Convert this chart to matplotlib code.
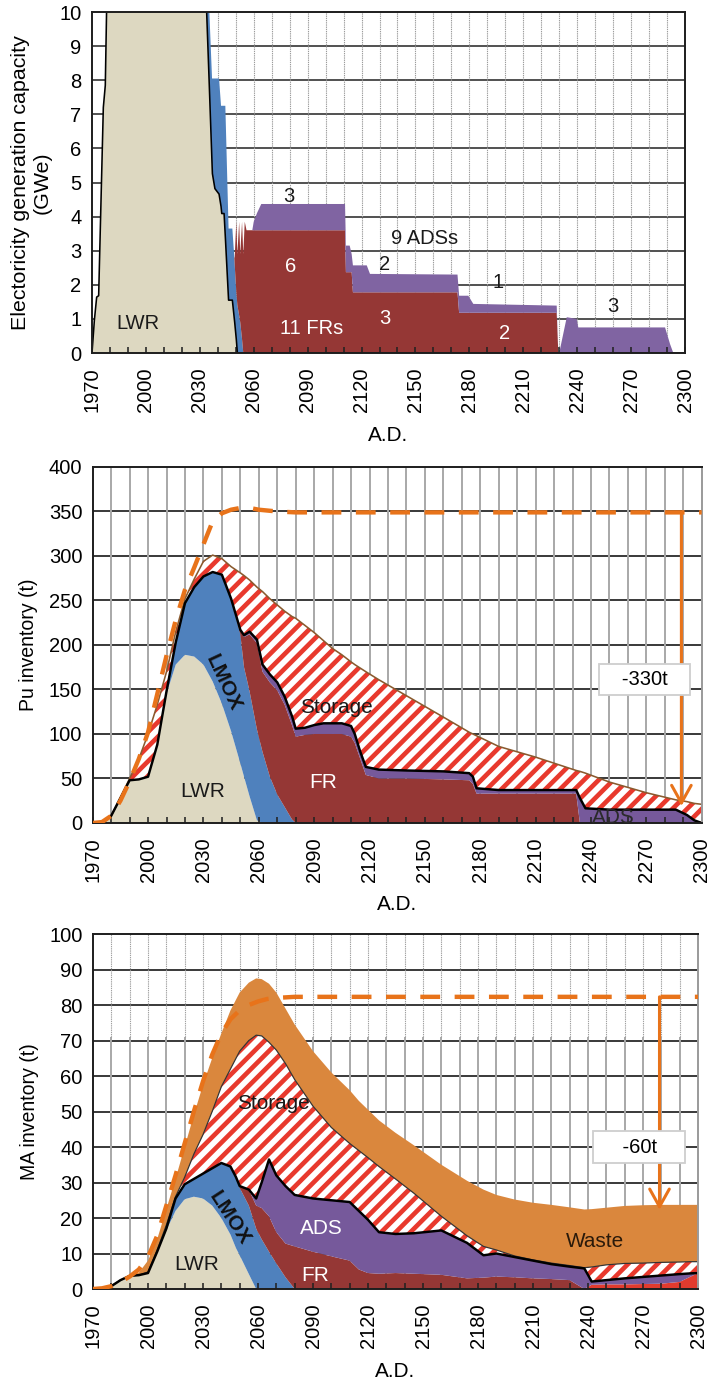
import numpy as np
import matplotlib
matplotlib.use('Agg')
import matplotlib.pyplot as plt

DPI = 88
plt.rcParams['font.family'] = ['Liberation Sans', 'DejaVu Sans']
plt.rcParams['hatch.color'] = '#e8392d'
plt.rcParams['hatch.linewidth'] = 3.8

LWR_C = '#ddd8c1'
LMOX_C = '#4f81bd'
FR_C = '#953735'
ADS_C = '#8064a2'
ADS_DARK = '#76599b'
NEW_C = '#e23b2e'
WASTE_C = '#da873d'
DASH_C = '#e8731a'

# ---- electricity generation capacity (GWe), layer thickness per reactor type
cap_years = [1970, 1971.3, 1972.6, 1973.7, 1976.3, 1977.4, 1978.2, 1980, 2032, 2033.8,
             2035.3, 2036.8, 2037, 2038.4, 2040.7, 2041.8, 2042.2, 2043.5, 2044.2, 2046,
             2048.1, 2049.2, 2049.4, 2050.3, 2050.9, 2051.9, 2052.5, 2053.5, 2054.2, 2055,
             2056, 2059.2, 2060, 2061.8, 2064.2, 2110.8, 2111.3, 2113.4, 2114.5, 2115.2,
             2122.9, 2124.7, 2173.4, 2174.3, 2179.4, 2182.2, 2228.6, 2229.5, 2230.4, 2234.2,
             2239.7, 2240.6, 2288.9, 2291.7, 2293.5, 2300]
cap_lwr = [0, 0.95, 1.64, 1.68, 7.2, 7.85, 10.3, 12, 12, 10,
           7.8, 5.55, 5.26, 4.82, 4.66, 4.3, 4.09, 4.09, 3.4, 1.55,
           1.55, 1.0, 0.9, 0.4, 0] + [0] * 31
cap_lmox = [0] * 9 + [1.3, 2.2, 2.5, 2.79, 3.23, 3.39, 2.95, 3.16, 3.16, 3.85,
                      2.1, 2.1, 1.8, 1.7, 1.4, 1.4, 1.1, 0.9, 0.4, 0] + [0] * 27
cap_fr = [0] * 22 + [0.2, 2.05, 1.5, 2.75, 2.0, 3.45, 2.9, 3.85, 3.6, 3.6,
                     3.6, 3.6, 3.6, 3.6, 2.37, 2.37, 2.37, 1.78, 1.78, 1.78,
                     1.78, 1.18, 1.18, 1.18, 1.18, 0] + [0] * 8
cap_ads = [0] * 32 + [0.25, 0.5, 0.77, 0.77, 0.78, 0.78, 0.53, 0.79, 0.79, 0.54,
                      0.52, 0.5, 0.5, 0.26, 0.21, 0, 0.1, 1.05, 1.0, 0.75,
                      0.75, 0.26, 0, 0]

# ---- Pu inventory (t)
pu_years = [1970, 1975, 1980, 1985, 1990, 1995, 2000, 2005, 2010, 2015,
            2020, 2025, 2030, 2035, 2040, 2045, 2050, 2052, 2055, 2059,
            2062, 2066, 2070, 2074, 2078, 2080, 2085, 2090, 2095, 2100,
            2105, 2110, 2112, 2115, 2118, 2125, 2140, 2160, 2174, 2176,
            2178, 2190, 2210, 2232, 2234, 2237, 2250, 2270, 2286, 2292,
            2296, 2300]
pu_lwr = [0, 0, 8, 28, 48, 49, 52, 88, 145, 178, 189, 187, 178, 159, 134, 103,
          67, 52, 30, 3] + [0] * 32
pu_lmox = [0] * 8 + [3, 25, 58, 78, 99, 123, 145, 149, 145, 123, 118, 102, 80,
                     52, 32, 18, 4] + [0] * 27
pu_fr = [0] * 16 + [5, 34, 64, 97, 90, 106, 117, 115, 106, 97, 99, 100, 100, 100,
                    100, 97, 90, 72, 54, 50, 50, 49, 48, 44, 33, 33, 33, 33] + [0] * 8
pu_ads = [0] * 16 + [0, 2, 3, 4, 8, 9, 9, 9, 10, 9, 8, 10, 12, 12, 12, 12, 10, 8,
                     9, 10, 9, 9, 8, 8, 6, 4, 4, 4, 28, 16.5, 15, 15, 15, 9, 3, 0]
pu_storage = [0, 0, 0, 0, 2, 23, 48, 45, 22, 12, 5, 9, 17, 19, 18, 36, 64, 67, 58, 59,
              82, 85, 87, 96, 112, 124, 115, 104, 93, 84, 77, 72, 78, 94, 107, 101,
              84, 61, 46, 48, 59, 49, 37, 22, 30, 39.5, 31, 19, 11, 15, 19, 21]
pu_dash_years = [1970, 1975, 1980, 1985, 1990, 1995, 2000, 2005, 2010, 2015, 2020,
                 2025, 2030, 2035, 2040, 2045, 2050, 2055, 2060, 2070, 2080, 2300]
pu_dash = [0, 1, 8, 25, 47, 72, 102, 145, 188, 228, 262, 287, 313, 339, 348, 352,
           354, 354, 352, 350, 349, 349]
pu_drop = 330
pu_arrow_year = 2289

# ---- MA inventory (t)
ma_years = [1970, 1975, 1980, 1985, 1990, 1995, 2000, 2005, 2010, 2015,
            2020, 2025, 2030, 2035, 2040, 2045, 2048, 2050, 2055, 2059,
            2062, 2066, 2070, 2075, 2080, 2090, 2100, 2110, 2115, 2120,
            2126, 2135, 2145, 2160, 2174, 2183, 2190, 2200, 2210, 2220,
            2230, 2238, 2242, 2250, 2260, 2270, 2280, 2290, 2296, 2300]
ma_lwr = [0, 0, 0.8, 2.5, 3.7, 3.9, 4.5, 10.5, 16.5, 22, 25.3, 26, 25.5, 23.5, 20,
          15.3, 11.5, 9.5, 4.2] + [0] * 31
ma_lmox = [0] * 8 + [0.5, 3.5, 4.2, 5, 7, 10.5, 15.5, 19.2, 20, 19, 19.3, 17, 14,
                     10.5, 7.2, 3.3] + [0] * 26
ma_fr = [0] * 16 + [0, 0.5, 4.5, 6.5, 8.8, 10, 8.8, 9.5, 12, 10.5, 9.2, 8, 5.5, 4.5,
                    4.3, 4.5, 4.3, 4, 3, 3.2, 3.5, 3.3, 3, 2.8, 2.5, 0] + [0] * 8
ma_new = [0] * 42 + [1.2, 1.3, 1.3, 1.4, 1.5, 2, 3.5, 4.5]
ma_ads = [0] * 19 + [2, 7.2, 16, 16, 16.2, 14.5, 15, 15.8, 16.5, 16.5, 15, 11.7, 11,
                     11.4, 12.5, 10, 6.3, 6.5, 5.7, 5, 4.2, 3.8, 5.8, 0.9, 1.2, 1.7,
                     2, 2.3, 2.2, 0.9, 0]
ma_storage = [0, 0, 0, 0, 0, 0, 0.3, 0.5, 1, 0.5, 2, 7, 11, 16, 21.5, 27.5, 33.5, 38,
              42, 46, 41.3, 33, 35.3, 34.5, 32.5, 26, 20.5, 16.5, 17, 17.5, 18.5, 15.5,
              11.3, 4, 2, 2.5, 1, 0.3, 0.2, 0.3, 0.3, 0.2, 4.1, 4.3, 4.2, 3.9, 3.7,
              3.4, 3.3, 3.2]
ma_waste = [0, 0.1, 0.4, 0.2, 0.2, 0.7, 3.2, 3, 4.5, 5, 8.5, 11, 14, 15, 15, 16.5,
            16.5, 16.5, 16.3, 16, 16, 16.5, 16.2, 15.5, 15.5, 15.5, 15.5, 15, 14, 13.5,
            13, 13, 13.5, 14.5, 15.5, 16, 15.5, 15.9, 16.1, 16.4, 16.4, 16.4, 16.3,
            16.1, 16.2, 16.3, 16.2, 16.1, 16, 16]
ma_dash_years = [1970, 1975, 1980, 1985, 1990, 1995, 2000, 2005, 2010, 2015, 2020,
                 2025, 2030, 2035, 2040, 2045, 2050, 2055, 2060, 2065, 2070, 2080, 2300]
ma_dash = [0, 0.2, 0.8, 2, 3.5, 5.5, 9, 15, 23.5, 32, 41, 50, 58.5, 66, 72, 76, 78.5,
           80, 81, 81.7, 82, 82.3, 82.3]
ma_drop = 60
ma_arrow_year = 2279
ma_grid_split = 71


def styleAxes(ax, ymax, ystep, ylabel, ylabel_x, ylabel_size, xlabel_y, right_color):
    ax.set_xlim(1970, 2300)
    ax.set_ylim(0, ymax)
    ax.set_xticks(np.arange(1970, 2301, 30))
    ax.set_xticks(np.arange(1970, 2301, 10), minor=True)
    ax.set_yticks(np.arange(0, ymax + ystep / 2, ystep))
    ax.tick_params(axis='x', which='both', direction='in', length=5, width=1.3,
                   color='#222222', top=False)
    ax.tick_params(axis='x', which='major', labelrotation=90, labelsize=16.5, pad=11.5)
    ax.tick_params(axis='y', length=0, labelsize=16.5, pad=8.5)
    for side in ['left', 'bottom', 'top']:
        ax.spines[side].set_color('#1e1e1e')
        ax.spines[side].set_linewidth(1.6)
    ax.spines['right'].set_color(right_color)
    ax.spines['right'].set_linewidth(1.6)
    ax.set_ylabel(ylabel, fontsize=ylabel_size)
    ax.yaxis.set_label_coords(ylabel_x, 0.5)
    ax.set_xlabel('A.D.', fontsize=17)
    ax.xaxis.set_label_coords(0.5, xlabel_y)


def drawReduction(ax, year, plateau, drop, label_year, label_y, pad_spaces):
    ax.annotate('', xy=(year, plateau - drop), xytext=(year, plateau),
                arrowprops=dict(arrowstyle='->,head_length=0.72,head_width=0.4',
                                color=DASH_C, lw=2.5, shrinkA=0, shrinkB=0,
                                mutation_scale=20),
                zorder=4)
    ax.text(label_year, label_y, pad_spaces + f'-{drop}t' + pad_spaces, fontsize=16.5,
            ha='center', va='center', zorder=6,
            bbox=dict(boxstyle='square,pad=0.3', fc='white', ec='#cfcfcf', lw=1.5))


def drawCapacity(ax):
    ax.hlines(np.arange(1, 10), 1970, 2300, colors='#2a2a2a', lw=1.3, zorder=0.5)
    ax.vlines(np.arange(1980, 2300, 10), 0, 10, colors='#9c9c9c', lw=0.9,
              linestyles=(0, (1.2, 0.8)), zorder=0.5)
    ax.stackplot(cap_years, cap_lwr, cap_lmox, cap_fr, cap_ads,
                 colors=[LWR_C, LMOX_C, FR_C, ADS_C])
    ax.plot(cap_years, cap_lwr, color='black', lw=1.3, zorder=2)

    fs = 16.5
    ax.text(1995.8, 0.87, 'LWR', fontsize=fs, ha='center', va='center', color='#1a1a1a')
    ax.text(2079.8, 4.58, '3', fontsize=fs, ha='center', va='center', color='#1a1a1a')
    ax.text(2080.7, 2.53, '6', fontsize=fs, ha='center', va='center', color='white')
    ax.text(2092.3, 0.72, '11 FRs', fontsize=fs, ha='center', va='center', color='white')
    ax.text(2155.3, 3.36, '9 ADSs', fontsize=fs, ha='center', va='center', color='#1a1a1a')
    ax.text(2133, 2.6, '2', fontsize=fs, ha='center', va='center', color='#1a1a1a')
    ax.text(2133, 1.02, '3', fontsize=fs, ha='center', va='center', color='white')
    ax.text(2196.1, 2.06, '1', fontsize=fs, ha='center', va='center', color='#1a1a1a')
    ax.text(2199.4, 0.58, '2', fontsize=fs, ha='center', va='center', color='white')
    ax.text(2260.1, 1.36, '3', fontsize=fs, ha='center', va='center', color='#1a1a1a')

    styleAxes(ax, 10, 1, 'Electoricity generation capacity\n(GWe)', -0.0675, 17.5,
              -0.214, '#1e1e1e')


def drawPu(ax):
    ax.hlines(np.arange(50, 400, 50), 1970, 2300, colors='#3a3a3a', lw=1.6, zorder=0.5)
    ax.vlines(np.arange(1980, 2300, 10), 0, 400, colors='#a8a8a8', lw=1.6, zorder=0.5)
    ax.stackplot(pu_years, pu_lwr, pu_lmox, pu_fr, pu_ads, pu_storage,
                 colors=[LWR_C, LMOX_C, FR_C, ADS_DARK, 'white'],
                 hatch=['', '', '', '', '//'])
    reactors = np.sum([pu_lwr, pu_lmox, pu_fr, pu_ads], axis=0)
    total = reactors + np.array(pu_storage)
    ax.plot(pu_years, total, color='#8a5a2e', lw=1.3, zorder=2)
    ax.plot(pu_years, reactors, color='black', lw=2, zorder=2.1)
    ax.plot(pu_dash_years, pu_dash, color=DASH_C, lw=3.6, linestyle=(0, (4.5, 3.3)),
            zorder=3)
    drawReduction(ax, pu_arrow_year, pu_dash[-1], pu_drop, 2269, 161, '   ')

    fs = 17
    ax.text(2029.8, 35, 'LWR', fontsize=fs, ha='center', va='center', color='#1a1a1a')
    ax.text(2040.6, 157, 'LMOX', fontsize=fs, ha='center', va='center', color='#111111',
            rotation=-65, fontweight='bold')
    ax.text(2094.8, 45, 'FR', fontsize=fs, ha='center', va='center', color='white')
    ax.text(2102, 130, 'Storage', fontsize=fs, ha='center', va='center', color='#1a1a1a')
    ax.text(2252, 6, 'ADS', fontsize=fs, ha='center', va='center', color='#2a2a2a',
            clip_on=True)

    styleAxes(ax, 400, 50, 'Pu inventory (t)', -0.0893, 16, -0.202, '#9a9a9a')


def drawMa(ax):
    ax.hlines(np.arange(10, 100, 10), 1970, 2300, colors='#3a3a3a', lw=1.6, zorder=0.5)
    decades = np.arange(1980, 2300, 10)
    ax.vlines(decades, 0, ma_grid_split, colors='#a8a8a8', lw=1.6, zorder=0.5)
    ax.vlines(decades, ma_grid_split, 100, colors='#a0a0a0', lw=0.9,
              linestyles=(0, (1.2, 0.8)), zorder=0.5)
    ax.stackplot(ma_years, ma_lwr, ma_lmox, ma_fr, ma_new, ma_ads, ma_storage, ma_waste,
                 colors=[LWR_C, LMOX_C, FR_C, NEW_C, ADS_DARK, 'white', WASTE_C],
                 hatch=['', '', '', '', '', '//', ''])
    reactors = np.sum([ma_lwr, ma_lmox, ma_fr, ma_new, ma_ads], axis=0)
    stored = reactors + np.array(ma_storage)
    ax.plot(ma_years, stored, color='#333333', lw=1.0, zorder=2)
    ax.plot(ma_years, reactors, color='black', lw=2, zorder=2.1)
    ax.plot(ma_dash_years, ma_dash, color=DASH_C, lw=3.6, linestyle=(0, (4.5, 3.3)),
            zorder=3)
    drawReduction(ax, ma_arrow_year, ma_dash[-1], ma_drop, 2268, 40, '    ')

    fs = 17
    ax.text(2026.6, 6.8, 'LWR', fontsize=fs, ha='center', va='center', color='#1a1a1a')
    ax.text(2044.7, 19.9, 'LMOX', fontsize=fs, ha='center', va='center', color='#111111',
            rotation=-57, fontweight='bold')
    ax.text(2068.4, 52.3, 'Storage', fontsize=fs, ha='center', va='center', color='#1a1a1a')
    ax.text(2094.7, 17.1, 'ADS', fontsize=fs, ha='center', va='center', color='white')
    ax.text(2091.1, 3.9, 'FR', fontsize=fs, ha='center', va='center', color='white')
    ax.text(2243.8, 13.3, 'Waste', fontsize=fs, ha='center', va='center', color='#2a1a0a')

    styleAxes(ax, 100, 10, 'MA inventory (t)', -0.0888, 16, -0.205, '#9a9a9a')


if __name__ == "__main__":
    fig = plt.figure(figsize=(710 / DPI, 1382 / DPI), dpi=DPI)
    ax_cap = fig.add_axes([0.12958, 0.74457, 0.83521, 0.24674])
    ax_pu = fig.add_axes([0.13056, 0.40449, 0.85775, 0.25760])
    ax_ma = fig.add_axes([0.13099, 0.06729, 0.85211, 0.25687])
    drawCapacity(ax_cap)
    drawPu(ax_pu)
    drawMa(ax_ma)
    fig.savefig('out.png', dpi=DPI)
